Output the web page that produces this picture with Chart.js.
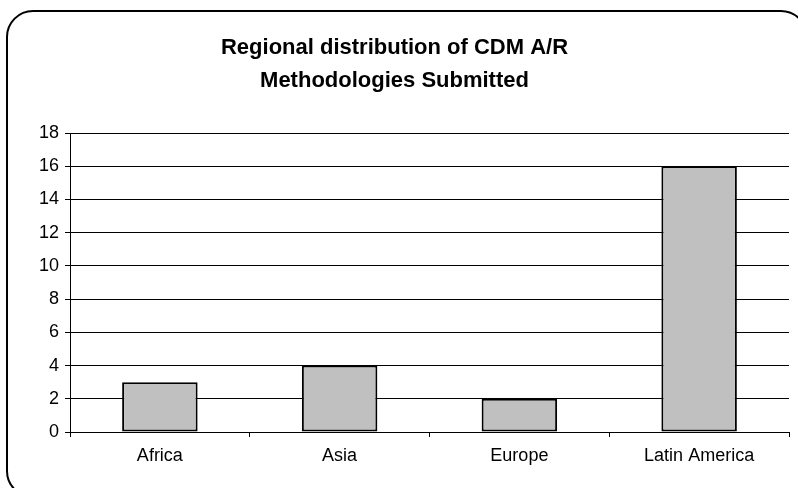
<!DOCTYPE html>
<html>
<head>
<meta charset="utf-8">
<script src="https://cdn.jsdelivr.net/npm/chart.js@4"></script>
<style>
  html, body { margin: 0; padding: 0; background: #fff; }
  #wrap { width: 798px; height: 488px; }
</style>
</head>
<body>
<div id="wrap"><canvas id="chart" width="798" height="488"></canvas></div>
<script>
const regions = ['Africa', 'Asia', 'Europe', 'Latin America'];
const methodologies = [3, 4, 2, 16];
const titleLines = ['Regional distribution of CDM A/R', 'Methodologies Submitted'];

// rounded frame around the whole chart, like the spreadsheet chart border
const frame = {
    id: 'frame',
    afterDraw(chart) {
        const c = chart.ctx;
        c.save();
        c.strokeStyle = '#000';
        c.lineWidth = 2;
        c.beginPath();
        c.roundRect(7, 11, 800, 486, 26);
        c.stroke();
        c.restore();
    }
};

const ctx = document.getElementById('chart').getContext('2d');
new Chart(ctx, {
    type: 'bar',
    data: {
        labels: regions,
        datasets: [{
            data: methodologies,
            backgroundColor: '#c0c0c0',
            borderColor: '#000',
            borderWidth: 2,
            borderSkipped: false,
            barPercentage: 0.42,
            categoryPercentage: 1
        }]
    },
    options: {
        responsive: false,
        animation: false,
        layout: { padding: { left: 0, right: 9, top: 0, bottom: 0 } },
        plugins: {
            legend: { display: false },
            tooltip: { enabled: false },
            title: {
                display: true,
                text: titleLines,
                color: '#000',
                font: { family: 'Liberation Sans, Arial, sans-serif', size: 22, weight: 'bold', lineHeight: 1.5 },
                padding: { top: 31, bottom: 36 }
            }
        },
        scales: {
            x: {
                grid: { display: true, drawOnChartArea: false, color: '#000', tickLength: 5, offset: true },
                border: { color: '#000', width: 1 },
                ticks: {
                    color: '#000',
                    font: { family: 'Liberation Sans, Arial, sans-serif', size: 18 },
                    padding: 8
                },
                afterFit(scale) { scale.height = 56; }
            },
            y: {
                min: 0,
                max: 18,
                ticks: {
                    stepSize: 2,
                    color: '#000',
                    font: { family: 'Liberation Sans, Arial, sans-serif', size: 18 },
                    padding: 6
                },
                grid: { color: '#000', tickLength: 5 },
                border: { color: '#000', width: 1 },
                afterFit(scale) { scale.width = 70; }
            }
        }
    },
    plugins: [frame]
});
</script>
</body>
</html>
